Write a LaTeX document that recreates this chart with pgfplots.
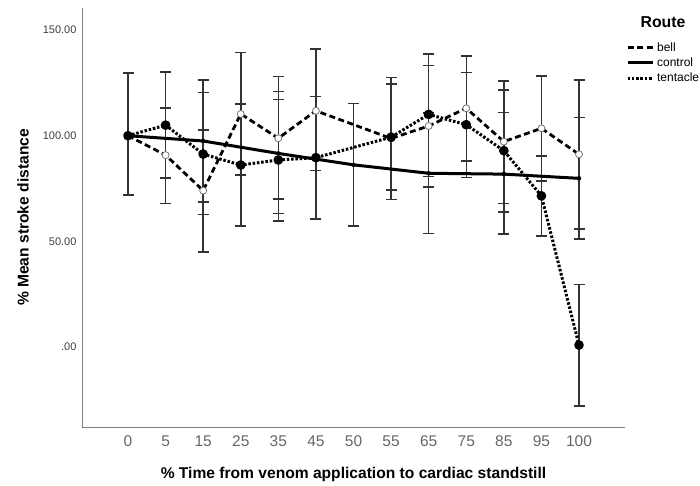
\documentclass[border=0pt]{standalone}
\usepackage{fontspec}
\setmainfont{Liberation Sans}
\usepackage{pgfplots}
\usepackage{pgfplotstable}
\pgfplotsset{compat=1.18}

\pgfplotstableread{
x y ep em
0 100.0 29.7 28.1
2 97.5 28.9 28.8
4 91.6 29.3 28.4
6 86.2 29.0 29.0
8 82.2 28.5 28.5
10 81.8 29.3 28.4
12 79.8 28.9 28.8
}\control

\pgfplotstableread{
x y ep em
0 100.0 0 0
1 90.8 22.3 22.8
2 74.0 28.7 29.0
3 110.3 29.1 28.9
4 98.8 29.2 28.8
5 111.8 29.2 28.4
7 98.7 28.9 28.9
8 104.6 28.6 28.8
9 113.0 24.8 25.1
10 97.2 28.7 29.2
11 103.5 24.8 25.0
12 91.2 35.2 35.4
}\bell

\pgfplotstableread{
x y ep em
0 100.0 0 0
1 105.0 25.2 25.1
2 91.3 29.1 28.6
3 86.1 28.9 28.9
4 88.5 28.7 28.9
5 89.6 28.9 29.1
7 99.3 25.2 25.1
8 110.1 28.5 29.5
9 105.2 24.8 24.9
10 92.9 28.8 29.1
11 71.5 18.9 19.0
12 0.8 28.8 28.9
}\tentacle

\begin{document}
\begin{tikzpicture}
\useasboundingbox (0,0) rectangle (700pt,485pt);
\begin{axis}[
  at={(82pt,58pt)}, anchor=south west,
  scale only axis, width=543pt, height=419pt,
  xmin=-1.224, xmax=13.224, ymin=-38.0, ymax=160.5,
  axis x line*=bottom, axis y line*=left,
  axis line style={-, draw=black!50, line width=0.9pt},
  major tick length=0pt,
  xtick={0,1,2,3,4,5,6,7,8,9,10,11,12},
  xticklabels={0,5,15,25,35,45,50,55,65,75,85,95,100},
  ytick={0,50,100,150},
  yticklabels={.00,50.00,100.00,150.00},
  /pgf/number format/assume math mode=true,
  xticklabel style={font=\fontsize{15.5}{15.5}\selectfont, text=black!60, yshift=-5pt},
  yticklabel style={font=\fontsize{11}{11}\selectfont, text=black!75, xshift=-2pt},
  xlabel={\% Time from venom application to cardiac standstill},
  ylabel={\% Mean stroke distance},
  xlabel style={font=\bfseries\fontsize{15.6}{15.6}\selectfont, at={(axis description cs:0.5,-0.1217)}, anchor=base},
  ylabel style={font=\bfseries\fontsize{15.6}{15.6}\selectfont, at={(axis description cs:-0.0985,0.5)}, anchor=base},
  clip=false,
  legend style={at={(axis description cs:1.002,0.9236)}, anchor=north west,
    draw=none, fill=none, inner sep=0pt, outer sep=0pt,
    row sep=0pt, column sep=2pt,
    font=\fontsize{12}{12}\selectfont,
    nodes={inner sep=1pt, text height=10pt, text depth=3.3pt}},
  legend cell align=left,
  legend image code/.code={\draw[#1, mark=none] (0pt,0pt) -- (25pt,0pt);},
  every axis plot/.append style={line join=round},
]
% error bars
\addplot[forget plot, only marks, mark=none,
  error bars/.cd, y dir=both, y explicit,
  error bar style={line width=1.5pt, draw=black!80, solid},
  error mark options={rotate=90, mark size=5.5pt, line width=1.5pt, draw=black!80, solid}]
  table[x=x, y=y, y error plus=ep, y error minus=em] {\control};
\addplot[forget plot, only marks, mark=none,
  error bars/.cd, y dir=both, y explicit,
  error bar style={line width=1.5pt, draw=black!80, solid},
  error mark options={rotate=90, mark size=5.5pt, line width=1.5pt, draw=black!80, solid}]
  table[x=x, y=y, y error plus=ep, y error minus=em, skip coords between index={0}{1}] {\bell};
\addplot[forget plot, only marks, mark=none,
  error bars/.cd, y dir=both, y explicit,
  error bar style={line width=1.5pt, draw=black!80, solid},
  error mark options={rotate=90, mark size=5.5pt, line width=1.5pt, draw=black!80, solid}]
  table[x=x, y=y, y error plus=ep, y error minus=em, skip coords between index={0}{1}] {\tentacle};
% lines
\addplot[black, line width=2.8pt, dash pattern=on 6pt off 3.5pt,
  mark=*, mark size=3.5pt, mark options={solid, draw=black!55, fill=white, line width=0.8pt}]
  table[x=x, y=y] {\bell};
\addlegendentry{bell}
\addplot[black, line width=3pt, mark=none] table[x=x, y=y] {\control};
\addlegendentry{control}
\addplot[black, line width=3pt, dash pattern=on 2.5pt off 1.8pt,
  mark=*, mark size=3.3pt, mark options={solid, draw=black, fill=black}]
  table[x=x, y=y] {\tentacle};
\addlegendentry{tentacle}
\node[font=\bfseries\fontsize{15.8}{15.8}\selectfont, anchor=base] at (axis description cs:1.07,0.953) {Route};
\end{axis}
\end{tikzpicture}
\end{document}
